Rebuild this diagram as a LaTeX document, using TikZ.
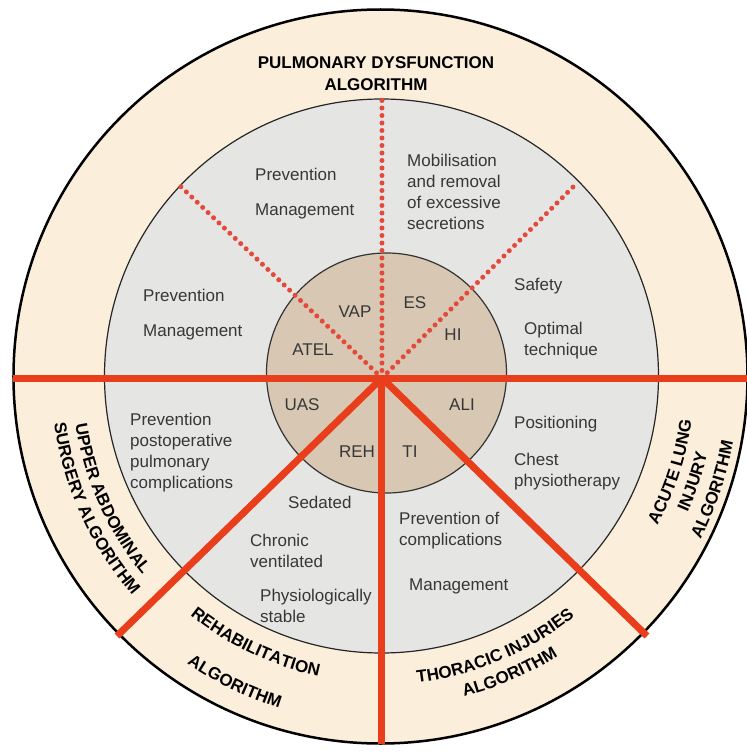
\documentclass[tikz,border=0pt]{standalone}
\usepackage{fontspec}
\setmainfont{Liberation Sans}
\usetikzlibrary{decorations.text}
\definecolor{ringbeige}{RGB}{251,238,219}
\definecolor{ringgray}{RGB}{229,229,227}
\definecolor{coretan}{RGB}{216,199,179}
\definecolor{algred}{RGB}{233,62,28}
\definecolor{dotred}{RGB}{228,74,60}
\definecolor{txtgray}{RGB}{55,55,55}
\newcommand\ringfont{\fontsize{17}{22}\selectfont\bfseries}
\newcommand\ringlabel[3]{%
	\path[decorate,decoration={text along path,text align=center,text={|\ringfont|#3}}]
	(#2-40:#1) arc[start angle=#2-40,end angle=#2+40,radius=#1];}
\tikzset{
	txt/.style={font=\fontsize{17}{21}\selectfont,text=txtgray,align=left,anchor=west,inner sep=0pt},
	core/.style={font=\fontsize{17}{21}\selectfont,text=txtgray,inner sep=0pt},
	split/.style={draw=algred,line width=7pt},
	dotsplit/.style={draw=dotred,line width=5pt,line cap=round,dash pattern=on 0pt off 7.5pt},
}
\begin{document}
\begin{tikzpicture}[x=1pt,y=1pt,line join=round]
		%==parameters
		\def\rA{367}
		\def\rB{277}
		\def\rC{120}
		%==============
		\useasboundingbox (-382,-375) rectangle (365,378);
		\filldraw[fill=ringbeige,draw=black,line width=2.5pt] (-1.5,1.5) circle[radius=\rA];
		\filldraw[fill=ringgray,draw=black!85,line width=1.2pt] (-0.5,2) circle[radius=\rB];
		\filldraw[fill=coretan,draw=black!80,line width=1.2pt] (4.5,5) circle[radius=\rC];
		\coordinate (O) at (0,0);
		\coordinate (N) at (0,278);
		\coordinate (NW) at (-205,195);
		\coordinate (NE) at (195,195);
		\coordinate (W) at (-368.5,0);
		\coordinate (E) at (366,0);
		\coordinate (S) at (0,-365.5);
		\coordinate (SW) at (-265,-258);
		\coordinate (SE) at (265,-258);
		\draw[dotsplit] (O)--(N);
		\draw[dotsplit] (O)--(NW);
		\draw[dotsplit] (O)--(NE);
		\draw[split] (W)--(E);
		\draw[split] (O)--(S);
		\draw[split] (O)--(SW);
		\draw[split] (O)--(SE);
		%==core
		\node[core] (vap) at (-27,66) {VAP};
		\node[core] (es) at (33,75) {ES};
		\node[core] (atel) at (-69,28) {ATEL};
		\node[core] (hi) at (71,43) {HI};
		\node[core] (uas) at (-80,-27) {UAS};
		\node[core] (ali) at (80,-27) {ALI};
		\node[core] (reh) at (-25,-74) {REH};
		\node[core] (ti) at (28,-74) {TI};
		%==middle ring
		\node[txt] (pre1) at (-127,204) {Prevention};
		\node[txt] (man1) at (-127,167) {Management};
		\node[txt] (mob) at (25,186) {Mobilisation\\and removal\\of excessive\\secretions};
		\node[txt] (pre2) at (-239,83) {Prevention};
		\node[txt] (man2) at (-239,46) {Management};
		\node[txt] (saf) at (132,92) {Safety};
		\node[txt] (opt) at (142,37) {Optimal\\technique};
		\node[txt] (ppc) at (-252,-75) {Prevention\\postoperative\\pulmonary\\complications};
		\node[txt] (sed) at (-94,-124) {Sedated};
		\node[txt] (chr) at (-132,-173) {Chronic\\ventilated};
		\node[txt] (phy) at (-122,-228) {Physiologically\\stable};
		\node[txt] (pos) at (132,-46) {Positioning};
		\node[txt] (che) at (132,-94) {Chest\\physiotherapy};
		\node[txt] (poc) at (17,-153) {Prevention of\\complications};
		\node[txt] (man3) at (27,-208) {Management};
		%==outer ring
		\node[font=\ringfont,align=center,inner sep=0pt] (pda) at (-6,304) {PULMONARY DYSFUNCTION\\ALGORITHM};
		\ringlabel{310}{204}{UPPER ABDOMINAL}
		\ringlabel{331}{204.5}{SURGERY ALGORITHM}
		\ringlabel{305}{244.5}{REHABILITATION}
		\ringlabel{346}{244.2}{ALGORITHM}
		\ringlabel{306.5}{292.8}{THORACIC INJURIES}
		\ringlabel{329}{293.4}{ALGORITHM}
		\ringlabel{312.5}{-18}{ACUTE LUNG}
		\ringlabel{334}{-18.4}{INJURY}
		\ringlabel{357}{-18.6}{ALGORITHM}
\end{tikzpicture}
\end{document}
